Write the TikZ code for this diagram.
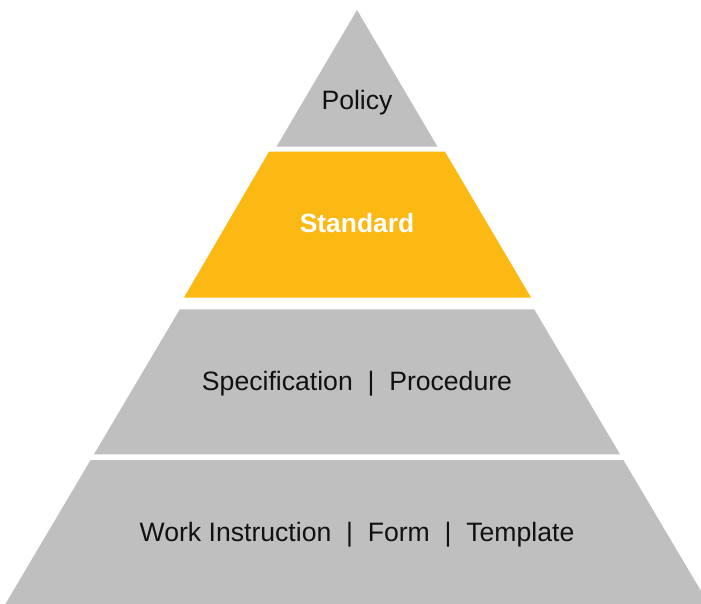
\documentclass[tikz,border=0pt]{standalone}
\usepackage{fontspec}
\setmainfont{Liberation Sans}
\definecolor{grau}{HTML}{BFBFBF}
\definecolor{gelb}{HTML}{FDB913}
\definecolor{schrift}{HTML}{111111}

\def\h{0.5pt}
\def\punkt#1#2{
	({(#1)*\h},{(-#2)*\h})
}

\begin{document}
\begin{tikzpicture}[
	beschriftung/.style={font=\fontsize{13.3}{16}\selectfont, text=schrift, inner sep=0pt, anchor=base},
	fett/.style={font=\fontsize{13.2}{16}\selectfont\bfseries, text=white}
]
\useasboundingbox \punkt{0}{0} rectangle \punkt{701}{604};
% Stufen
\fill[grau] \punkt{357}{10} -- \punkt{437.5}{146.7}
	-- \punkt{276.5}{146.7} -- cycle;
\fill[gelb] \punkt{269}{151.7} -- \punkt{445}{151.7}
	-- \punkt{531}{297.5} -- \punkt{184}{297.5} -- cycle;
\fill[grau] \punkt{179.8}{309.3} -- \punkt{534.2}{309.3}
	-- \punkt{620}{454.3} -- \punkt{94}{454.3} -- cycle;
\fill[grau] \punkt{90.6}{460} -- \punkt{623.4}{460}
	-- \punkt{701}{591} -- \punkt{701}{604}
	-- \punkt{5.4}{604} -- cycle;
% Beschriftung
\node[beschriftung] (policy) at \punkt{357}{110} {Policy};
\node[beschriftung, fett] (standard) at \punkt{357}{232.5} {Standard};
\node[beschriftung] (spec) at \punkt{357}{390} {Specification~~|~~Procedure};
\node[beschriftung] (work) at \punkt{357}{541} {Work Instruction~~|~~Form~~|~~Template};
\end{tikzpicture}
\end{document}
